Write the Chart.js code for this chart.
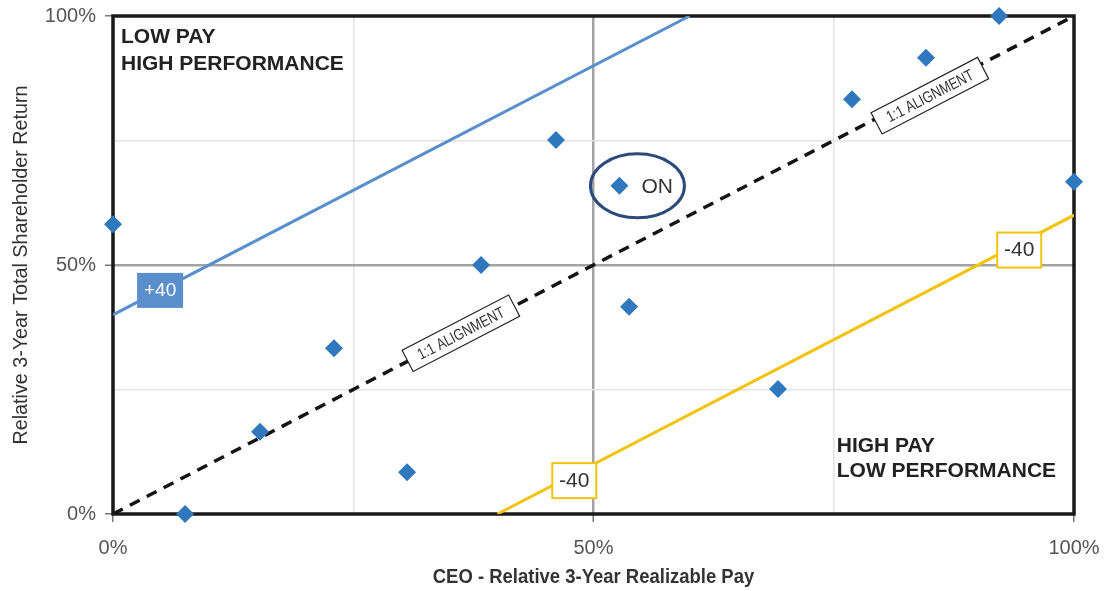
<!DOCTYPE html>
<html>
<head>
<meta charset="utf-8">
<script src="https://cdn.jsdelivr.net/npm/chart.js@4.4.0/dist/chart.umd.min.js"></script>
<style>
  html, body { margin: 0; padding: 0; background: #fff; }
  #wrap { width: 1106px; height: 591px; }
</style>
</head>
<body>
<div id="wrap"><canvas id="payChart" width="1106" height="591"></canvas></div>
<script>
// ---- data ----
const payX = [0, 7.5, 15.3, 23, 30.6, 38.3, 46.1, 52.7, 53.7, 69.2, 76.9, 84.6, 92.2, 100];
const tsrY = [58.2, 0, 16.5, 33.3, 8.4, 50, 75.1, 65.9, 41.6, 25.1, 83.3, 91.6, 100, 66.7];
const onIndex = 7;

const alignX = [0, 100], alignY = [0, 100];
const plusX = [0, 60], plusY = [40, 100];
const minusX = [40, 100], minusY = [0, 60];

const tickValues = [0, 25, 50, 75, 100];
const tickLabels = { 0: "0%", 50: "50%", 100: "100%" };

const xTitle = "CEO - Relative 3-Year Realizable Pay";
const yTitle = "Relative 3-Year Total Shareholder Return";

const SANS = "'Liberation Sans', Arial, sans-serif";

const toPts = (xs, ys) => xs.map((x, i) => ({ x: x, y: ys[i] }));

// grid styling per tick
const gridColor = ctx => {
  const v = ctx.tick && ctx.tick.value;
  if (v === 50) return "#a3a3a3";
  if (v === 25 || v === 75) return "#e3e3e3";
  return "rgba(0,0,0,0)";
};
const gridWidth = ctx => (ctx.tick && ctx.tick.value === 50 ? 2.5 : 1.5);
const tickColor = ctx => {
  const v = ctx.tick && ctx.tick.value;
  return (v === 25 || v === 75) ? "rgba(0,0,0,0)" : "#777";
};

// condensed text helper (no narrow font installed)
function narrowText(ctx, text, x, y, squeeze, rot) {
  ctx.save();
  ctx.translate(x, y);
  if (rot) ctx.rotate(rot);
  ctx.scale(squeeze, 1);
  ctx.fillText(text, 0, 0);
  ctx.restore();
}

// frame around plot area, drawn under the marks
const framePlugin = {
  id: "frame",
  beforeDatasetsDraw(chart) {
    const { ctx, chartArea: a } = chart;
    ctx.save();
    ctx.strokeStyle = "#1a1a1a";
    ctx.lineWidth = 3.5;
    ctx.strokeRect(a.left, a.top, a.right - a.left, a.bottom - a.top);
    ctx.restore();
  }
};

// labels, boxes, ellipse
const notesPlugin = {
  id: "notes",
  afterDatasetsDraw(chart) {
    const { ctx, chartArea: a } = chart;
    const sx = chart.scales.x, sy = chart.scales.y;
    const px = v => sx.getPixelForValue(v);
    const py = v => sy.getPixelForValue(v);
    ctx.save();

    // axis titles
    ctx.fillStyle = "#333";
    ctx.textAlign = "center";
    ctx.textBaseline = "middle";
    ctx.font = "bold 21px " + SANS;
    narrowText(ctx, xTitle, (a.left + a.right) / 2, 577, 0.88, 0);
    ctx.font = "21px " + SANS;
    narrowText(ctx, yTitle, 21, (a.top + a.bottom) / 2, 0.94, -Math.PI / 2);

    // quadrant captions
    ctx.fillStyle = "#222";
    ctx.font = "bold 21px " + SANS;
    ctx.textAlign = "left";
    ctx.textBaseline = "alphabetic";
    ctx.fillText("LOW PAY", a.left + 8, a.top + 27);
    ctx.fillText("HIGH PERFORMANCE", a.left + 8, a.top + 54);
    ctx.fillText("HIGH PAY", px(75) + 3, py(12.5));
    ctx.fillText("LOW PERFORMANCE", px(75) + 3, py(7.5));

    // +40 box
    const bx = px(4.9), by = py(45);
    ctx.fillStyle = "#5b8fcc";
    ctx.fillRect(bx - 23, by - 17, 46, 35);
    ctx.fillStyle = "#fff";
    ctx.font = "19px " + SANS;
    ctx.textAlign = "center";
    ctx.textBaseline = "middle";
    ctx.fillText("+40", bx, by + 1);

    // -40 boxes
    [[48, 6.6], [94.3, 52.9]].forEach(p => {
      const x = px(p[0]), y = py(p[1]);
      ctx.fillStyle = "#fff";
      ctx.fillRect(x - 22, y - 18, 44, 35);
      ctx.strokeStyle = "#f2c40f";
      ctx.lineWidth = 2;
      ctx.strokeRect(x - 22, y - 18, 44, 35);
      ctx.fillStyle = "#333";
      ctx.font = "21px " + SANS;
      ctx.fillText("-40", x, y);
    });

    // 1:1 alignment tags
    const ang = Math.atan2(py(100) - py(0), px(100) - px(0));
    [[36.2, 36.3], [85, 84]].forEach(p => {
      const x = px(p[0]), y = py(p[1]);
      ctx.save();
      ctx.translate(x, y);
      ctx.rotate(ang);
      ctx.fillStyle = "#fff";
      ctx.fillRect(-60, -12, 120, 24);
      ctx.strokeStyle = "#222";
      ctx.lineWidth = 1.2;
      ctx.strokeRect(-60, -12, 120, 24);
      ctx.fillStyle = "#333";
      ctx.font = "16px " + SANS;
      narrowText(ctx, "1:1 ALIGNMENT", 0, 1, 0.8, 0);
      ctx.restore();
    });

    // ON callout
    const ox = px(payX[onIndex]), oy = py(tsrY[onIndex]);
    ctx.fillStyle = "#333";
    ctx.font = "21px " + SANS;
    ctx.textAlign = "left";
    ctx.fillText("ON", ox + 22, oy + 1);
    ctx.beginPath();
    ctx.ellipse(ox + 18, oy, 47, 32, 0, 0, Math.PI * 2);
    ctx.strokeStyle = "#2c4a7c";
    ctx.lineWidth = 3;
    ctx.stroke();

    ctx.restore();
  }
};

const lineDs = (xs, ys, color, width, dash, order) => ({
  type: "line",
  data: toPts(xs, ys),
  borderColor: color,
  borderWidth: width,
  borderDash: dash,
  pointRadius: 0,
  fill: false,
  order: order
});

new Chart(document.getElementById("payChart").getContext("2d"), {
  type: "scatter",
  data: {
    datasets: [
      {
        label: "Companies",
        data: toPts(payX, tsrY),
        pointStyle: "rectRot",
        pointRadius: 9,
        pointHoverRadius: 9,
        backgroundColor: "#2f78bd",
        borderWidth: 0,
        clip: false,
        order: 0
      },
      lineDs(plusX, plusY, "#5b8fcc", 3, [], 2),
      lineDs(minusX, minusY, "#f2c40f", 3, [], 2),
      lineDs(alignX, alignY, "#141414", 3.5, [11, 8], 1)
    ]
  },
  options: {
    responsive: false,
    animation: false,
    events: [],
    layout: { padding: { left: 0, top: 16, right: 32, bottom: 0 } },
    plugins: { legend: { display: false }, tooltip: { enabled: false } },
    scales: {
      x: {
        type: "linear",
        min: 0, max: 100,
        afterBuildTicks: s => { s.ticks = tickValues.map(v => ({ value: v })); },
        afterFit: s => { s.height = 77; s.paddingLeft = 0; s.paddingRight = 0; },
        border: { display: false },
        grid: { color: gridColor, lineWidth: gridWidth, tickColor: tickColor, tickLength: 8, tickWidth: 1.5 },
        ticks: {
          callback: v => tickLabels[v] || "",
          color: "#555",
          font: { family: SANS, size: 20 },
          padding: 14,
          maxRotation: 0,
          autoSkip: false
        }
      },
      y: {
        type: "linear",
        min: 0, max: 100,
        afterBuildTicks: s => { s.ticks = tickValues.map(v => ({ value: v })); },
        afterFit: s => { s.width = 113; s.paddingTop = 0; s.paddingBottom = 0; },
        border: { display: false },
        grid: { color: gridColor, lineWidth: gridWidth, tickColor: tickColor, tickLength: 8, tickWidth: 1.5 },
        ticks: {
          callback: v => tickLabels[v] || "",
          color: "#555",
          font: { family: SANS, size: 20 },
          padding: 9,
          autoSkip: false
        }
      }
    }
  },
  plugins: [framePlugin, notesPlugin]
});
</script>
</body>
</html>
